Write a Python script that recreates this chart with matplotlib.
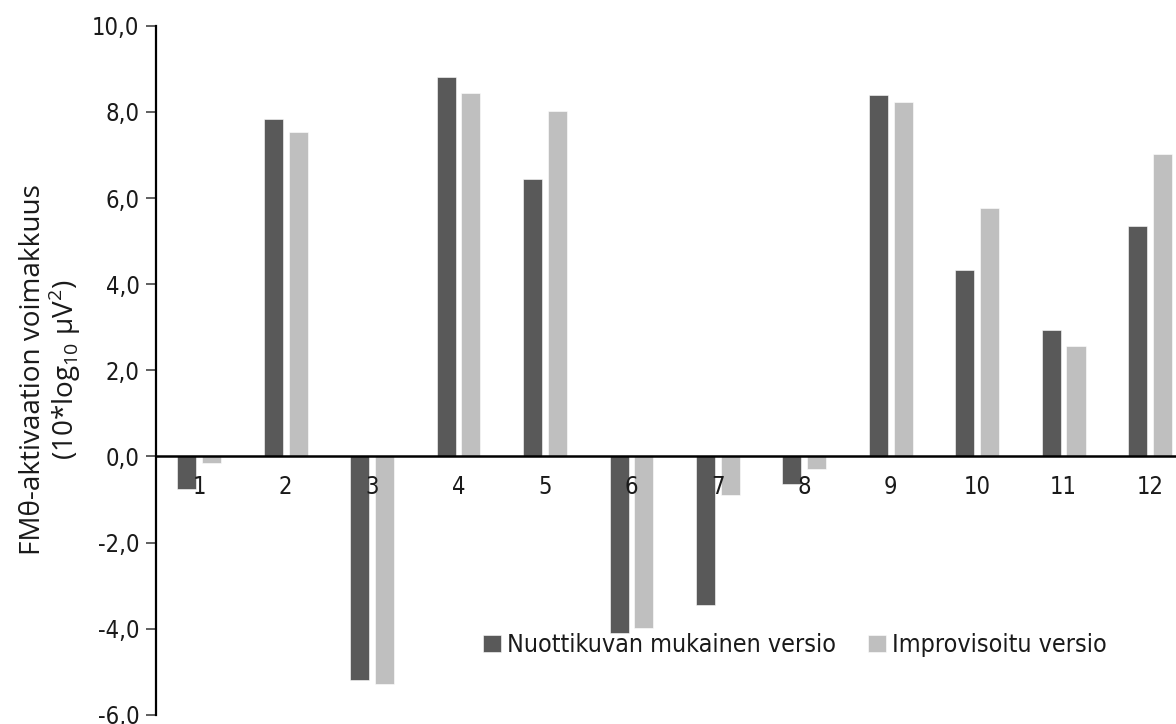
import numpy as np
import matplotlib
matplotlib.use("Agg")
from matplotlib import pyplot as plt
from matplotlib import font_manager as fm

categories = ['1', '2', '3', '4', '5', '6', '7', '8', '9', '10', '11', '12']
nuottikuva = [-0.76, 7.83, -5.19, 8.80, 6.44, -4.09, -3.45, -0.63, 8.38, 4.32, 2.93, 5.36]
improvisoitu = [-0.15, 7.53, -5.27, 8.44, 8.01, -3.99, -0.89, -0.30, 8.24, 5.77, 2.57, 7.03]
yticks = [-6, -4, -2, 0, 2, 4, 6, 8, 10]

dark = '#595959'
light = '#bfbfbf'
txt = '#1a1a1a'

# narrow regular font for ticks / legend if there is one
names = {f.name for f in fm.fontManager.ttflist}
cond = [f for f in fm.fontManager.ttflist
        if ('ondensed' in str(f.stretch) or 'arrow' in f.name)
        and f.weight in (400, 'normal', 'regular', 'book') and f.style == 'normal']
if 'Liberation Sans Narrow' in names:
    narrow_kw = dict(family='Liberation Sans Narrow')
elif cond:
    narrow_kw = dict(fname=cond[0].fname)
else:
    narrow_kw = dict(family='Roboto')
label_family = 'Open Sans' if 'Open Sans' in names else 'Liberation Sans'

plt.rcParams['mathtext.fontset'] = 'custom'
plt.rcParams['mathtext.rm'] = label_family

fig = plt.figure(figsize=(11.76, 7.24), dpi=100)
ax = fig.add_axes([0.1327, 0.0125, 0.882, 0.952])

ax.spines['bottom'].set_position(('data', 0))
for s in ['top', 'right']:
    ax.spines[s].set_visible(False)

x = np.arange(1, len(categories) + 1)
w = 0.22
ax.bar(x - 0.143, nuottikuva, w, color=dark, edgecolor='white', linewidth=0.4,
       label='Nuottikuvan mukainen versio')
ax.bar(x + 0.143, improvisoitu, w, color=light, edgecolor='white', linewidth=0.4,
       label='Improvisoitu versio')

ax.set_xlim(0.5, 12.5)
ax.set_ylim(-6, 10)
ax.set_yticks(yticks)
ax.set_yticklabels([f'{v:.1f}'.replace('.', ',') for v in yticks])
ax.set_xticks(x)
ax.set_xticklabels(categories)
tick_font = fm.FontProperties(size=17, **narrow_kw)
for t in ax.get_xticklabels() + ax.get_yticklabels():
    t.set_fontproperties(tick_font)
    t.set_color(txt)

ax.spines['bottom'].set_linewidth(1.8)
ax.spines['left'].set_linewidth(1.6)
ax.tick_params(axis='x', length=0, pad=13)
ax.tick_params(axis='y', length=7, width=1.2, direction='out', pad=5, color='#444444')

# y label, sized so its first line spans about 370 px
l1 = fig.text(0.028, 0.489, 'FMθ-aktivaation voimakkuus', rotation=90, ha='center', va='center',
              fontsize=20, family=label_family, color=txt)
fig.canvas.draw()
h = l1.get_window_extent().height
size = 20 * 370 / h
l1.set_fontsize(size)
fig.text(0.055, 0.489, r'(10*log$_{10}$ µV$^{2}$)', rotation=90, ha='center', va='center',
         fontsize=size, family=label_family, color=txt)

leg_font = fm.FontProperties(size=18, **narrow_kw)
leg = fig.legend(loc='center', bbox_to_anchor=(795 / 1176, 1 - 645 / 724), ncol=2, frameon=False,
                 prop=leg_font, handlelength=0.7, handleheight=0.7,
                 handletextpad=0.25, columnspacing=1.3)
for t in leg.get_texts():
    t.set_color(txt)

fig.savefig('out.png', dpi=100)
